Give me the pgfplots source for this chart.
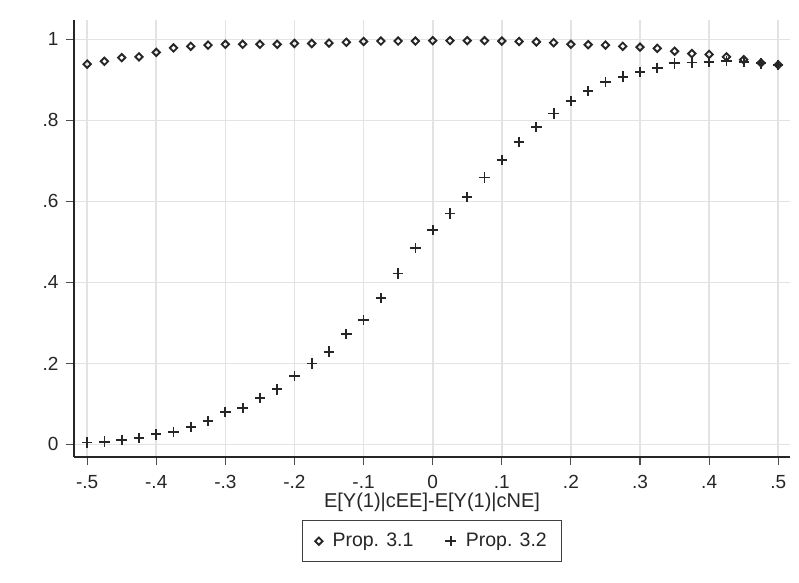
\documentclass[border=0pt]{standalone}
\usepackage{pgfplots}
\pgfplotsset{compat=1.18}
\usepackage{fontspec}
\setmainfont{Liberation Sans}

\pgfplotstableread{
x      y
-0.5   0.939
-0.475 0.946
-0.45  0.955
-0.425 0.957
-0.4   0.968
-0.375 0.979
-0.35  0.983
-0.325 0.986
-0.3   0.988
-0.275 0.988
-0.25  0.988
-0.225 0.988
-0.2   0.990
-0.175 0.990
-0.15  0.991
-0.125 0.993
-0.1   0.995
-0.075 0.996
-0.05  0.996
-0.025 0.996
0      0.997
0.025  0.997
0.05   0.997
0.075  0.997
0.1    0.996
0.125  0.995
0.15   0.994
0.175  0.992
0.2    0.988
0.225  0.987
0.25   0.986
0.275  0.983
0.3    0.981
0.325  0.978
0.35   0.971
0.375  0.965
0.4    0.963
0.425  0.957
0.45   0.950
0.475  0.942
0.5    0.937
}\propone

\pgfplotstableread{
x      y
-0.5   0.005
-0.475 0.007
-0.45  0.011
-0.425 0.016
-0.4   0.025
-0.375 0.031
-0.35  0.043
-0.325 0.058
-0.3   0.080
-0.275 0.090
-0.25  0.114
-0.225 0.136
-0.2   0.169
-0.175 0.200
-0.15  0.229
-0.125 0.272
-0.1   0.307
-0.075 0.362
-0.05  0.422
-0.025 0.485
0      0.529
0.025  0.570
0.05   0.611
0.075  0.659
0.1    0.702
0.125  0.747
0.15   0.784
0.175  0.817
0.2    0.848
0.225  0.873
0.25   0.895
0.275  0.908
0.3    0.920
0.325  0.930
0.35   0.941
0.375  0.943
0.4    0.945
0.425  0.947
0.45   0.945
0.475  0.941
0.5    0.937
}\proptwo

\begin{document}
\fontsize{19bp}{22bp}\selectfont
\begin{tikzpicture}
\useasboundingbox (-74bp,-126bp) rectangle (725bp,457bp);
\begin{axis}[at={(0,0)}, anchor=south west, scale only axis,
    width=716bp, height=437bp,
    xmin=-0.519, xmax=0.517, ymin=-0.031, ymax=1.048,
    axis lines*=left, axis line style={black!85, line width=1.2bp},
    xtick={-0.5,-0.4,-0.3,-0.2,-0.1,0,0.1,0.2,0.3,0.4,0.5},
    xticklabels={-.5,-.4,-.3,-.2,-.1,0,.1,.2,.3,.4,.5},
    ytick={0,0.2,0.4,0.6,0.8,1},
    yticklabels={0,.2,.4,.6,.8,1},
    tick align=outside, major tick length=8bp,
    tick style={black!70, line width=1.1bp},
    grid=major, major grid style={black!11, line width=1.7bp},
    ticklabel style={font=\fontsize{19bp}{22bp}\selectfont, text=black!85},
    xticklabel style={yshift=-3.5bp},
    yticklabel style={xshift=-1bp},
    xlabel={E[Y(1)|cEE]-E[Y(1)|cNE]},
    xlabel style={at={(axis description cs:0.5,0)}, anchor=base, yshift=-50bp,
        font=\fontsize{20bp}{23bp}\selectfont, text=black!85},
    legend columns=2,
    legend style={at={(0.5,-0.1442)}, anchor=north, draw=black!75, line width=0.9bp,
        font=\fontsize{19.5bp}{22bp}\selectfont, text=black!85,
        inner xsep=13bp, inner ysep=10.5bp,
        /tikz/every odd column/.append style={column sep=8bp},
        /tikz/every even column/.append style={column sep=30bp}},
    legend cell align=left,
]
\addplot[only marks, mark=square, mark size=2.6bp, black!85, line width=1.9bp,
    mark options={rotate=45}] table[x=x, y=y] {\propone};
\addlegendentry{Prop. 3.1}
\addplot[only marks, mark=+, mark size=5.2bp, black!85, line width=1.8bp] table[x=x, y=y] {\proptwo};
\addlegendentry{Prop. 3.2}
\end{axis}
\end{tikzpicture}
\end{document}
